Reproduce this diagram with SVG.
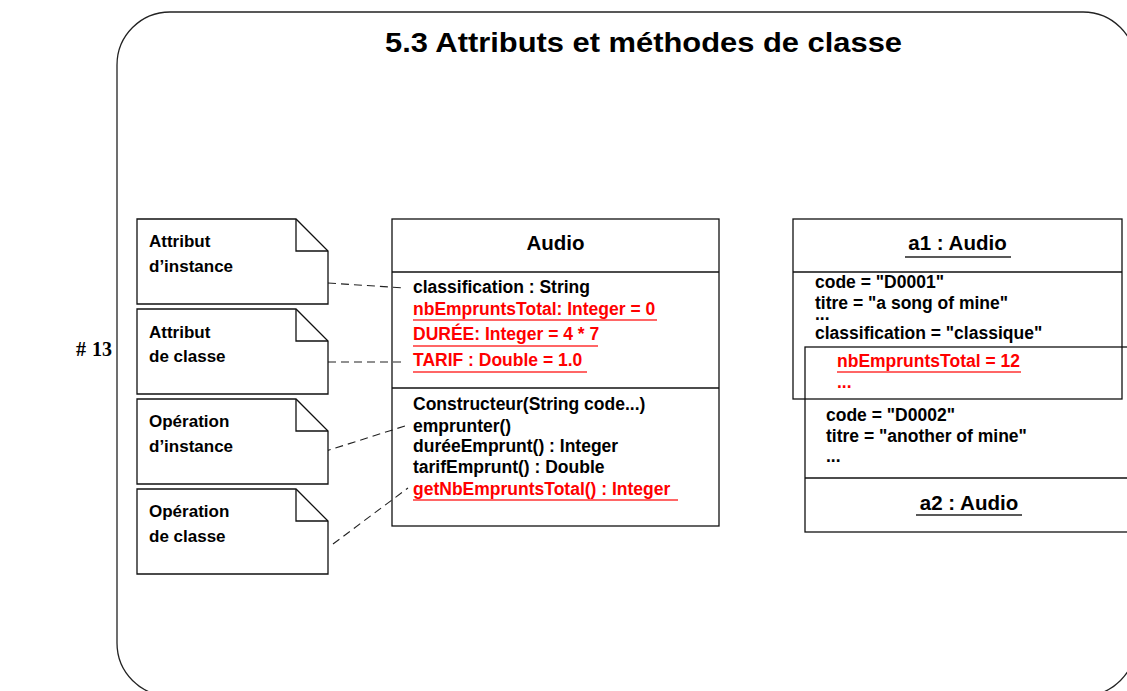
<svg xmlns="http://www.w3.org/2000/svg" width="1127" height="691" viewBox="0 0 1127 691">
<style>
text{font-family:"Liberation Sans",Arial,sans-serif;font-weight:bold;fill:#000}
.t{font-size:17.5px}
.n{font-size:17px}
.h{font-size:20.5px}
.r{fill:#ff0000}
.box{fill:none;stroke:#111;stroke-width:1.3}
.note{fill:#fff;stroke:#111;stroke-width:1.3}
.ul{stroke:#f33;stroke-width:1.6}
.ulk{stroke:#222;stroke-width:1.6}
.c{fill:none;stroke:#222;stroke-width:1.1;stroke-dasharray:8,5}
</style>
<rect width="1127" height="691" fill="#fff"/>
<rect id="frame" x="117" y="12" width="1019" height="684" rx="53" ry="53" fill="none" stroke="#222" stroke-width="1.3"/>
<text id="title" x="385" y="52" font-size="27.5" textLength="517" lengthAdjust="spacingAndGlyphs">5.3 Attributs et méthodes de classe</text>
<text id="pagenum" y="356" style="font-family:'Liberation Serif','Times New Roman',serif;font-size:20px"><tspan x="76">#</tspan><tspan x="92">13</tspan></text>

<g id="connectors">
<path class="c" d="M328 283 L405 288"/>
<path class="c" d="M328 362 L405 362"/>
<path class="c" d="M323 452 L408 425"/>
<path class="c" d="M333 544 L408 488"/>
</g>

<g id="note-attr-instance">
<path class="note" d="M137 219 H296 L328 251 V304 H137 Z"/>
<path class="box" d="M296 219 V251 H328"/>
<text class="n" x="149" y="247">Attribut</text>
<text class="n" x="149" y="272">d’instance</text>
</g>
<g id="note-attr-classe">
<path class="note" d="M137 309 H296 L328 341 V394 H137 Z"/>
<path class="box" d="M296 309 V341 H328"/>
<text class="n" x="149" y="338">Attribut</text>
<text class="n" x="149" y="362">de classe</text>
</g>
<g id="note-op-instance">
<path class="note" d="M137 399 H296 L328 431 V484 H137 Z"/>
<path class="box" d="M296 399 V431 H328"/>
<text class="n" x="149" y="427">Opération</text>
<text class="n" x="149" y="452">d’instance</text>
</g>
<g id="note-op-classe">
<path class="note" d="M137 489 H296 L328 521 V574 H137 Z"/>
<path class="box" d="M296 489 V521 H328"/>
<text class="n" x="149" y="517">Opération</text>
<text class="n" x="149" y="542">de classe</text>
</g>

<g id="class-audio">
<rect class="box" x="392" y="219" width="327" height="307"/>
<line class="box" x1="392" y1="272" x2="719" y2="272"/>
<line class="box" x1="392" y1="388" x2="719" y2="388"/>
<text class="h" x="555.5" y="250" text-anchor="middle">Audio</text>
<text class="t" x="413" y="293">classification : String</text>
<text class="t r" x="413" y="315">nbEmpruntsTotal: Integer = 0</text>
<line class="ul" x1="413" y1="320" x2="657" y2="320"/>
<text class="t r" x="413" y="340">DURÉE: Integer = 4 * 7</text>
<line class="ul" x1="413" y1="346" x2="598" y2="346"/>
<text class="t r" x="413" y="366">TARIF : Double = 1.0</text>
<line class="ul" x1="413" y1="372" x2="587" y2="372"/>
<text class="t" x="413" y="410">Constructeur(String code...)</text>
<text class="t" x="413" y="432">emprunter()</text>
<text class="t" x="413" y="452">duréeEmprunt() : Integer</text>
<text class="t" x="413" y="473">tarifEmprunt() : Double</text>
<text class="t r" x="413" y="495">getNbEmpruntsTotal() : Integer</text>
<line class="ul" x1="413" y1="500" x2="678" y2="500"/>
</g>

<g id="object-a1">
<rect class="box" x="793" y="219" width="329" height="180"/>
<line class="box" x1="793" y1="272" x2="1122" y2="272"/>
<text class="h" x="957.5" y="250" text-anchor="middle">a1 : Audio</text>
<line class="ulk" x1="905" y1="257" x2="1011" y2="257"/>
<text class="t" x="815" y="288">code = "D0001"</text>
<text class="t" x="815" y="309">titre = "a song of mine"</text>
<text class="t" x="815" y="320">...</text>
<text class="t" x="815" y="339">classification = "classique"</text>
</g>

<g id="object-a2">
<rect class="box" x="805" y="347" width="330" height="185"/>
<line class="box" x1="805" y1="478" x2="1127" y2="478"/>
<text class="t r" x="837" y="367">nbEmpruntsTotal = 12</text>
<line class="ul" x1="837" y1="372" x2="1021" y2="372"/>
<text class="t r" x="837" y="388">...</text>
<text class="t" x="826" y="421">code = "D0002"</text>
<text class="t" x="826" y="442">titre = "another of mine"</text>
<text class="t" x="826" y="462">...</text>
<text class="h" x="969" y="510" text-anchor="middle">a2 : Audio</text>
<line class="ulk" x1="916" y1="515" x2="1022" y2="515"/>
</g>
</svg>
